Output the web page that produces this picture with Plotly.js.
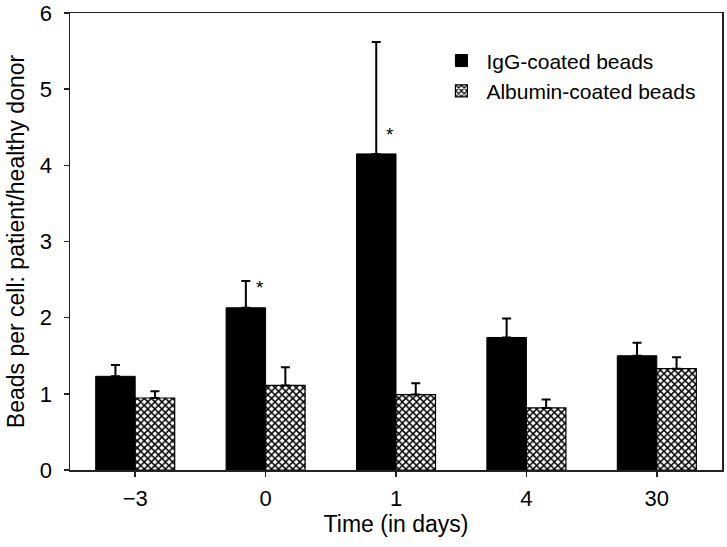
<!DOCTYPE html>
<html>
<head>
<meta charset="utf-8">
<script src="https://cdn.plot.ly/plotly-3.0.1.min.js"></script>
<style>html,body{margin:0;padding:0;background:#fff;}#chart{width:727px;height:547px;}</style>
</head>
<body>
<div id="chart"></div>
<script>
// Data
var days = ['\u22123', '0', '1', '4', '30'];
var iggValues = [1.23, 2.13, 4.15, 1.74, 1.50];
var iggErrors = [0.15, 0.35, 1.47, 0.25, 0.17];
var albuminValues = [0.945, 1.11, 0.99, 0.815, 1.33];
var albuminErrors = [0.09, 0.24, 0.15, 0.11, 0.15];
var starDays = ['0', '1'];
var starValues = [2.39, 4.40];
var seriesNames = ['IgG-coated beads', 'Albumin-coated beads'];

var font = 'Liberation Sans, Arial, Helvetica, sans-serif';

var traces = [
  {
    type: 'bar', name: seriesNames[0], x: days, y: iggValues,
    marker: {color: '#000', line: {color: '#000', width: 1}},
    error_y: {type: 'data', symmetric: false, array: iggErrors,
      arrayminus: iggValues.map(function(){return 0;}),
      color: '#000', thickness: 2, width: 4.5}
  },
  {
    type: 'bar', name: seriesNames[1], x: days, y: albuminValues,
    marker: {color: '#fff', line: {color: '#000', width: 1.2},
      pattern: {shape: 'x', fgcolor: '#000', bgcolor: '#fff', size: 5, solidity: 0.5}},
    error_y: {type: 'data', symmetric: false, array: albuminErrors,
      arrayminus: albuminValues.map(function(){return 0;}),
      color: '#000', thickness: 2, width: 4.5}
  }
];

var annotations = starDays.map(function(d, i) {
  return {x: days.indexOf(d) - 0.045, y: starValues[i], xref: 'x', yref: 'y',
    text: '*', showarrow: false, font: {family: font, size: 19, color: '#000'}};
});

var layout = {
  width: 727, height: 547,
  margin: {l: 70, r: 5, t: 13, b: 77},
  paper_bgcolor: '#fff', plot_bgcolor: '#fff',
  barmode: 'group', bargap: 0.394, bargroupgap: 0,
  font: {family: font, color: '#000'},
  showlegend: true,
  legend: {x: 0.562, y: 0.94, xanchor: 'left', yanchor: 'top',
    bgcolor: 'rgba(0,0,0,0)', font: {family: font, size: 21, color: '#000'},
    traceorder: 'normal', tracegroupgap: 0, itemwidth: 40},
  xaxis: {
    type: 'category', range: [-0.5, 4.5],
    showline: true, mirror: true, linecolor: '#222', linewidth: 1.5,
    ticks: 'outside', ticklen: 5, tickwidth: 1.5, tickcolor: '#222',
    ticklabelstandoff: 3,
    tickfont: {family: font, size: 22, color: '#000'},
    showgrid: false, zeroline: false,
    title: {text: 'Time (in days)', font: {family: font, size: 23, color: '#000'}, standoff: 6}
  },
  yaxis: {
    range: [0, 6], dtick: 1,
    showline: true, mirror: true, linecolor: '#222', linewidth: 1.5,
    ticks: 'outside', ticklen: 5, tickwidth: 1.5, tickcolor: '#222',
    ticklabelstandoff: 7,
    tickfont: {family: font, size: 22, color: '#000'},
    showgrid: false, zeroline: false,
    title: {text: 'Beads per cell: patient/healthy donor', font: {family: font, size: 23, color: '#000'}, standoff: 9}
  },
  annotations: annotations
};

Plotly.newPlot('chart', traces, layout, {displayModeBar: false, staticPlot: true});
</script>
</body>
</html>
